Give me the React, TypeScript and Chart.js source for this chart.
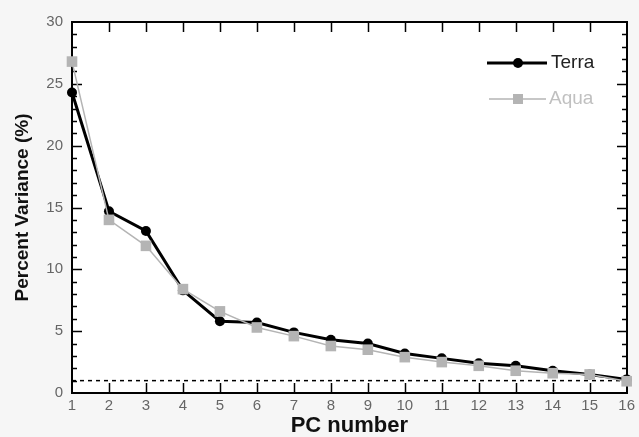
import React, { useEffect, useRef } from "react";
import { Chart, registerables } from "chart.js";
Chart.register(...registerables);

const pcNumbers = [1, 2, 3, 4, 5, 6, 7, 8, 9, 10, 11, 12, 13, 14, 15, 16];
const terraValues = [24.3, 14.7, 13.1, 8.3, 5.8, 5.7, 4.9, 4.3, 4.0, 3.2, 2.8, 2.4, 2.2, 1.8, 1.5, 1.1];
const aquaValues = [26.8, 14.0, 11.9, 8.4, 6.6, 5.3, 4.6, 3.8, 3.5, 2.9, 2.5, 2.2, 1.8, 1.6, 1.5, 0.95];
const thresholdValue = 1;
const yMin = 0;
const yMax = 30;
const xMin = 1;
const xMax = 16;

const FONT = "'Liberation Sans', Arial, sans-serif";

const framePlugin = {
  id: "frame",
  beforeDraw(chart: any) {
    const { ctx, chartArea: a } = chart;
    ctx.save();
    ctx.fillStyle = "#f6f6f6";
    ctx.fillRect(0, 0, chart.width, chart.height);
    ctx.fillStyle = "#ffffff";
    ctx.fillRect(a.left, a.top, a.right - a.left, a.bottom - a.top);
    ctx.restore();
  },
  beforeDatasetsDraw(chart: any) {
    const { ctx, chartArea: a, scales } = chart;
    const xs = scales.x;
    const ys = scales.y;
    const L = Math.round(xs.getPixelForValue(xMin));
    const R = Math.round(xs.getPixelForValue(xMax));
    const T = Math.round(ys.getPixelForValue(yMax));
    const B = Math.round(ys.getPixelForValue(yMin));
    ctx.save();
    ctx.setLineDash([]);
    ctx.strokeStyle = "#000000";
    ctx.lineWidth = 2;
    ctx.beginPath();
    ctx.moveTo(L, T);
    ctx.lineTo(R, T);
    ctx.lineTo(R, B);
    ctx.lineTo(L, B);
    ctx.closePath();
    ctx.stroke();
    ctx.lineWidth = 1.5;
    ctx.beginPath();
    for (let v = xMin + 1; v < xMax; v++) {
      const px = Math.round(xs.getPixelForValue(v)) + 0.5;
      ctx.moveTo(px, B);
      ctx.lineTo(px, B - 10);
      ctx.moveTo(px, T);
      ctx.lineTo(px, T + 10);
    }
    for (let v = yMin + 1; v < yMax; v++) {
      const py = Math.round(ys.getPixelForValue(v)) + 0.5;
      const len = v % 5 === 0 ? 10 : 5;
      ctx.moveTo(L, py);
      ctx.lineTo(L + len, py);
      ctx.moveTo(R, py);
      ctx.lineTo(R - len, py);
    }
    ctx.stroke();
    ctx.restore();
  },
  afterDraw(chart: any) {
    const { ctx } = chart;
    ctx.save();
    ctx.setLineDash([]);
    // Terra legend
    ctx.strokeStyle = "#000";
    ctx.lineWidth = 3;
    ctx.beginPath();
    ctx.moveTo(487, 63);
    ctx.lineTo(547, 63);
    ctx.stroke();
    ctx.fillStyle = "#000";
    ctx.beginPath();
    ctx.arc(518, 63, 5, 0, Math.PI * 2);
    ctx.fill();
    // Aqua legend
    ctx.strokeStyle = "#b4b4b4";
    ctx.lineWidth = 1.5;
    ctx.beginPath();
    ctx.moveTo(489, 99);
    ctx.lineTo(546, 99);
    ctx.stroke();
    ctx.fillStyle = "#b4b4b4";
    ctx.fillRect(513, 94, 10, 10);
    ctx.font = `19px ${FONT}`;
    ctx.textBaseline = "middle";
    ctx.textAlign = "left";
    ctx.fillStyle = "#222";
    ctx.fillText("Terra", 551, 63);
    ctx.fillStyle = "#c0c0c0";
    ctx.fillText("Aqua", 549, 99);
    ctx.restore();
  },
};

export default function App() {
  const ref = useRef<HTMLCanvasElement>(null);
  useEffect(() => {
    document.body.style.margin = "0";
    const toPts = (vals: number[]) => vals.map((v, i) => ({ x: pcNumbers[i], y: v }));
    const chart = new Chart(ref.current as HTMLCanvasElement, {
      type: "line",
      data: {
        datasets: [
          {
            label: "Aqua",
            data: toPts(aquaValues),
            borderColor: "#b4b4b4",
            backgroundColor: "#b4b4b4",
            borderWidth: 1.5,
            pointStyle: "rect",
            pointRadius: 7.5,
            pointBorderWidth: 0,
            order: 1,
            clip: false as any,
          },
          {
            label: "Terra",
            data: toPts(terraValues),
            borderColor: "#000",
            backgroundColor: "#000",
            borderWidth: 3,
            pointStyle: "circle",
            pointRadius: 5,
            pointBorderWidth: 0,
            order: 2,
            clip: false as any,
          },
          {
            label: "threshold",
            data: [
              { x: xMin, y: thresholdValue },
              { x: xMax, y: thresholdValue },
            ],
            borderColor: "#000",
            borderWidth: 1.5,
            borderDash: [4, 4],
            pointRadius: 0,
            order: 3,
          },
        ],
      },
      options: {
        animation: false,
        responsive: false,
        events: [],
        layout: { padding: { top: 22, right: 7, left: 0, bottom: 0 } },
        plugins: { legend: { display: false }, tooltip: { enabled: false } },
        scales: {
          x: {
            type: "linear",
            min: xMin,
            max: xMax,
            grid: { display: false, drawTicks: false },
            border: { display: false },
            ticks: {
              stepSize: 1,
              autoSkip: false,
              padding: 4,
              color: "#666",
              font: { family: FONT, size: 15 },
            },
            title: {
              display: true,
              text: "PC number",
              color: "#111",
              font: { family: FONT, size: 22, weight: "bold", lineHeight: 1 },
              padding: { top: 0, bottom: 0 },
            },
            afterFit(s: any) {
              s.height = 44;
            },
          },
          y: {
            type: "linear",
            min: yMin,
            max: yMax,
            grid: { display: false, drawTicks: false },
            border: { display: false },
            ticks: {
              stepSize: 5,
              padding: 9,
              color: "#666",
              font: { family: FONT, size: 15 },
            },
            title: {
              display: true,
              text: "Percent Variance (%)",
              color: "#111",
              font: { family: FONT, size: 19, weight: "bold", lineHeight: 1 },
              padding: { top: 13, bottom: 0 },
            },
            afterFit(s: any) {
              s.width = 72;
            },
          },
        },
      } as any,
      plugins: [framePlugin],
    });
    return () => chart.destroy();
  }, []);
  return (
    <div style={{ position: "absolute", left: 0, top: 0, width: 639, height: 437 }}>
      <canvas ref={ref} width={639} height={437} />
    </div>
  );
}
